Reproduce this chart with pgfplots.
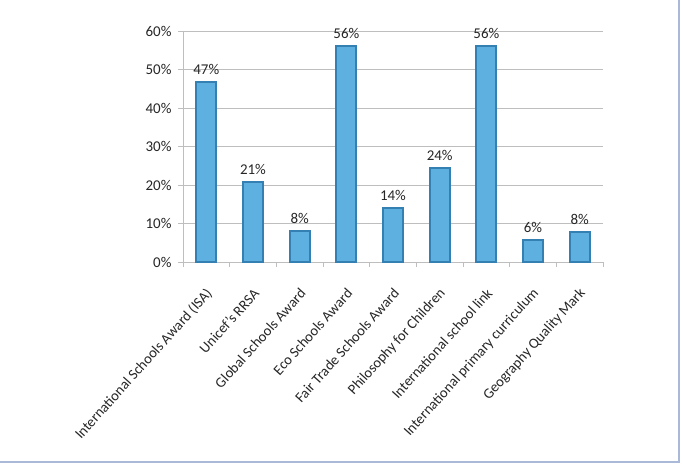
\documentclass[border=0pt]{standalone}
\usepackage{pgfplots}
\pgfplotsset{compat=1.18}
\usepackage{pgfplotstable}
\usepackage{fontspec}
\setmainfont{Carlito}
\definecolor{barfill}{RGB}{93,176,224}
\definecolor{baredge}{RGB}{52,128,178}
\definecolor{gridc}{RGB}{190,190,190}
\definecolor{framec}{RGB}{170,185,215}
\pgfplotstableread{
x y lab
0 46.7 47\%
1 20.8 21\%
2 8.1 8\%
3 56.1 56\%
4 14.1 14\%
5 24.4 24\%
6 56.1 56\%
7 5.7 6\%
8 7.9 8\%
}\datatable
\begin{document}
\begin{tikzpicture}[x=1bp,y=1bp]
\useasboundingbox (0,0) rectangle (682,465);
\draw[framec, line width=2bp] (0,3) -- (679,3) -- (679,465);
\begin{axis}[
  at={(183bp,203bp)}, anchor=south west,
  scale only axis, width=420bp, height=231bp,
  xmin=-0.5, xmax=8.5, ymin=0, ymax=60,
  ytick={0,10,...,60},
  yticklabel={\pgfmathprintnumber{\tick}\%},
  /pgf/number format/assume math mode=true,
  xtick={0,...,8},
  xticklabels={International Schools Award (ISA), Unicef’s RRSA, Global Schools Award, Eco Schools Award, Fair Trade Schools Award, Philosophy for Children, International school link, International primary curriculum, Geography Quality Mark},
  minor xtick={-0.5,0.5,...,8.5},
  major x tick style={draw=none},
  minor tick length=5bp,
  major tick length=5bp,
  tick align=outside,
  tick pos=left,
  ymajorgrids, grid style={gridc, line width=0.8bp},
  axis x line*=bottom, axis y line*=left,
  axis line style={gridc, line width=0.8bp},
  tick style={gridc, line width=0.8bp},
  every tick label/.append style={font=\fontsize{15}{17}\selectfont, text=black!85},
  xticklabel style={xshift=4bp, yshift=-23bp, rotate=48, anchor=east, inner sep=1bp, font=\fontsize{14.6}{17}\selectfont},
  yticklabel style={xshift=-3bp},
  ybar, bar width=20bp,
  enlargelimits=false,
  clip=false,
]
\addplot[fill=barfill, draw=baredge, line width=2bp,
  nodes near coords, point meta=explicit symbolic,
  every node near coord/.append style={font=\fontsize{15}{17}\selectfont, text=black!85, anchor=south, yshift=3bp}]
  table[x=x, y=y, meta=lab] {\datatable};
\end{axis}
\end{tikzpicture}
\end{document}
